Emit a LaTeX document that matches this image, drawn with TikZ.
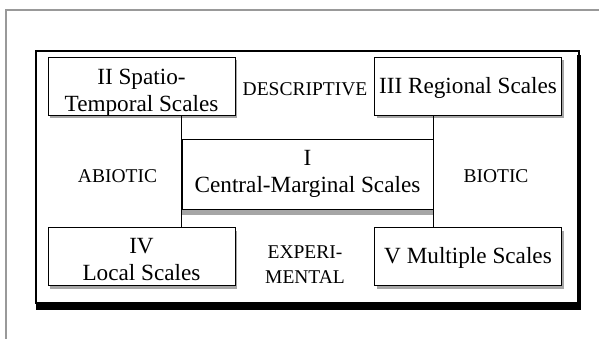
\documentclass[tikz,border=0pt]{standalone}
\usepackage{fontspec}
\setmainfont{Liberation Serif}
\usetikzlibrary{shadows}
\tikzset{
	boxbase/.style={draw, line width=0.8pt, fill=white, inner sep=0pt},
	scalebox/.style={boxbase, minimum width=187pt, minimum height=58pt,
		drop shadow={shadow xshift=2pt, shadow yshift=-3.5pt, fill=black!35, opacity=1}},
	centerbox/.style={boxbase, minimum width=251pt, minimum height=70pt,
		drop shadow={shadow xshift=0pt, shadow yshift=-6pt, fill=black!35, opacity=1}},
	scaletext/.style={align=center, inner sep=0pt, font=\fontsize{23.2}{27}\selectfont},
	axislabel/.style={align=center, inner sep=0pt, font=\fontsize{19.5}{25}\selectfont},
}

\begin{document}
\begin{tikzpicture}[x=1pt, y=-1pt]
		\useasboundingbox (0,0) rectangle (599,339);
		%%%%% FRAME %%%%%
		
		\draw[line width=1.2pt, color=black!40] (6,339) -- (6,10) -- (599,10);
		\fill (36,302) rectangle (581,310);
		\fill (577,55) rectangle (581,310);
		\draw[line width=1.6pt] (36,51) rectangle (579,303);
		
		%%%%% BOXES %%%%%
		
		\node[scalebox] (spatio) at (141.5,86) {};
		\node[scalebox] (regional) at (468,86) {};
		\node[centerbox] (central) at (307.5,174) {};
		\node[scalebox] (local) at (141.5,256) {};
		\node[scalebox] (multiple) at (468,256) {};
		
		\node[scaletext] (spatiotext) at (141.5,92.5) {II Spatio-\\Temporal Scales};
		\node[scaletext] (regionaltext) at (468,88) {III Regional Scales};
		\node[scaletext] (centraltext) at (307.5,174) {I\\Central-Marginal Scales};
		\node[scaletext] (localtext) at (141.5,259.5) {IV\\Local Scales};
		\node[scaletext] (multipletext) at (468,258) {V Multiple Scales};
		
		%%%%% LABELS %%%%%
		
		\node[axislabel] (descriptive) at (305,89) {DESCRIPTIVE};
		\node[axislabel] (abiotic) at (117.5,176.5) {ABIOTIC};
		\node[axislabel] (biotic) at (496,176.5) {BIOTIC};
		\node[axislabel] (experimental) at (305,265) {EXPERI-\\MENTAL};
		
		%%%%% LINKS %%%%%
		
		\draw[line width=0.8pt] (spatio.south -| central.west) -- (local.north -| central.west);
		\draw[line width=0.8pt] (regional.south -| central.east) -- (multiple.north -| central.east);
		
		%%%%% END %%%%%
\end{tikzpicture}
\end{document}
